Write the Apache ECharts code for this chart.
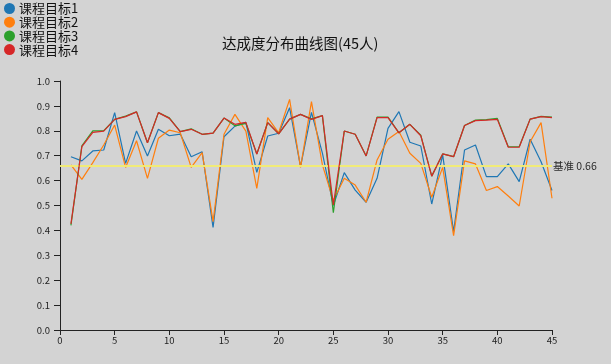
<!DOCTYPE html>
<html><head><meta charset="utf-8">
<script src="https://cdn.jsdelivr.net/npm/echarts@6/dist/echarts.min.js"></script>
<style>html,body{margin:0;padding:0;background:#d3d3d3;}#c{width:611px;height:364px;}</style>
</head><body><div id="c"></div>
<script>
var students = [];
for (var k = 1; k <= 45; k++) students.push(k);
var seriesNames = ['课程目标1','课程目标2','课程目标3','课程目标4'];
var goal1 = [0.696,0.679,0.719,0.723,0.873,0.669,0.799,0.699,0.806,0.780,0.787,0.696,0.716,0.412,0.776,0.819,0.834,0.633,0.779,0.790,0.893,0.656,0.874,0.710,0.500,0.632,0.562,0.513,0.609,0.810,0.877,0.754,0.739,0.506,0.703,0.395,0.723,0.743,0.616,0.616,0.667,0.596,0.766,0.676,0.560];
var goal2 = [0.663,0.605,0.672,0.743,0.823,0.653,0.760,0.609,0.770,0.803,0.792,0.653,0.712,0.435,0.786,0.866,0.799,0.569,0.853,0.792,0.926,0.653,0.917,0.663,0.520,0.609,0.582,0.513,0.683,0.766,0.797,0.710,0.669,0.533,0.653,0.379,0.679,0.667,0.560,0.576,0.538,0.498,0.756,0.833,0.529];
var goal3 = [0.420,0.740,0.800,0.801,0.846,0.859,0.876,0.752,0.873,0.852,0.797,0.808,0.786,0.791,0.851,0.820,0.830,0.707,0.833,0.788,0.847,0.866,0.848,0.861,0.471,0.799,0.786,0.699,0.855,0.855,0.792,0.826,0.782,0.618,0.707,0.696,0.821,0.843,0.845,0.850,0.736,0.736,0.847,0.858,0.855];
var goal4 = [0.426,0.736,0.794,0.799,0.846,0.857,0.876,0.752,0.873,0.850,0.797,0.806,0.786,0.791,0.851,0.826,0.834,0.707,0.833,0.788,0.847,0.866,0.846,0.861,0.502,0.799,0.786,0.699,0.853,0.853,0.792,0.826,0.780,0.618,0.707,0.696,0.821,0.841,0.843,0.846,0.734,0.734,0.847,0.857,0.853];
var baseline = 0.66;
var colors = ['#1f77b4','#ff7f0e','#2ca02c','#d62728'];

function pairs(arr){ return arr.map(function(v,i){ return [students[i], v]; }); }
var allData = [goal1, goal2, goal3, goal4];
var series = allData.map(function(d, i){
  return {
    name: seriesNames[i], type: 'line', data: pairs(d), showSymbol: false, symbol: 'none',
    lineStyle: {width: 1.2, color: colors[i]}, itemStyle: {color: colors[i]}, z: 2 + i, animation: false
  };
});
series[0].markLine = {
  silent: true, symbol: 'none', animation: false,
  lineStyle: {color: '#f2ec72', width: 2, type: 'solid', opacity: 0.95},
  label: {show: true, position: 'end', formatter: '基准 ' + baseline, color: '#222', fontSize: 10.5, fontFamily: 'Noto Sans CJK SC', distance: 1},
  data: [{yAxis: baseline}]
};
var chart = echarts.init(document.getElementById('c'), null, {renderer: 'canvas'});
chart.setOption({
  backgroundColor: '#d3d3d3',
  animation: false,
  color: colors,
  title: {text: '达成度分布曲线图(45人)', left: 217, top: 31, textStyle: {fontSize: 14.5, fontWeight: 'normal', color: '#111', fontFamily: 'Noto Sans CJK SC'}},
  legend: {orient: 'vertical', left: 4, top: 2, itemWidth: 11, itemHeight: 11, itemGap: 0.7, icon: 'circle', padding: 0,
    textStyle: {fontSize: 13, lineHeight: 13, color: '#111', fontFamily: 'Noto Sans CJK SC', padding: [0,0,0,-1]}, data: seriesNames},
  grid: {left: 60, right: 59, top: 81, bottom: 34, containLabel: false},
  xAxis: {type: 'value', min: 0, max: 45, interval: 5,
    axisLine: {show: true, lineStyle: {color: '#222'}}, axisTick: {show: true, length: 5, lineStyle: {color: '#222'}},
    axisLabel: {color: '#222', fontSize: 9.5, margin: 6, fontFamily: 'Noto Sans CJK SC'}, splitLine: {show: false}},
  yAxis: {type: 'value', min: 0, max: 1, interval: 0.1,
    axisLine: {show: true, lineStyle: {color: '#222'}}, axisTick: {show: true, length: 6, lineStyle: {color: '#222'}},
    axisLabel: {color: '#222', fontSize: 9.5, margin: 10, fontFamily: 'Noto Sans CJK SC', formatter: function(v){ return v.toFixed(1); }},
    splitLine: {show: false}},
  series: series
});
</script></body></html>
